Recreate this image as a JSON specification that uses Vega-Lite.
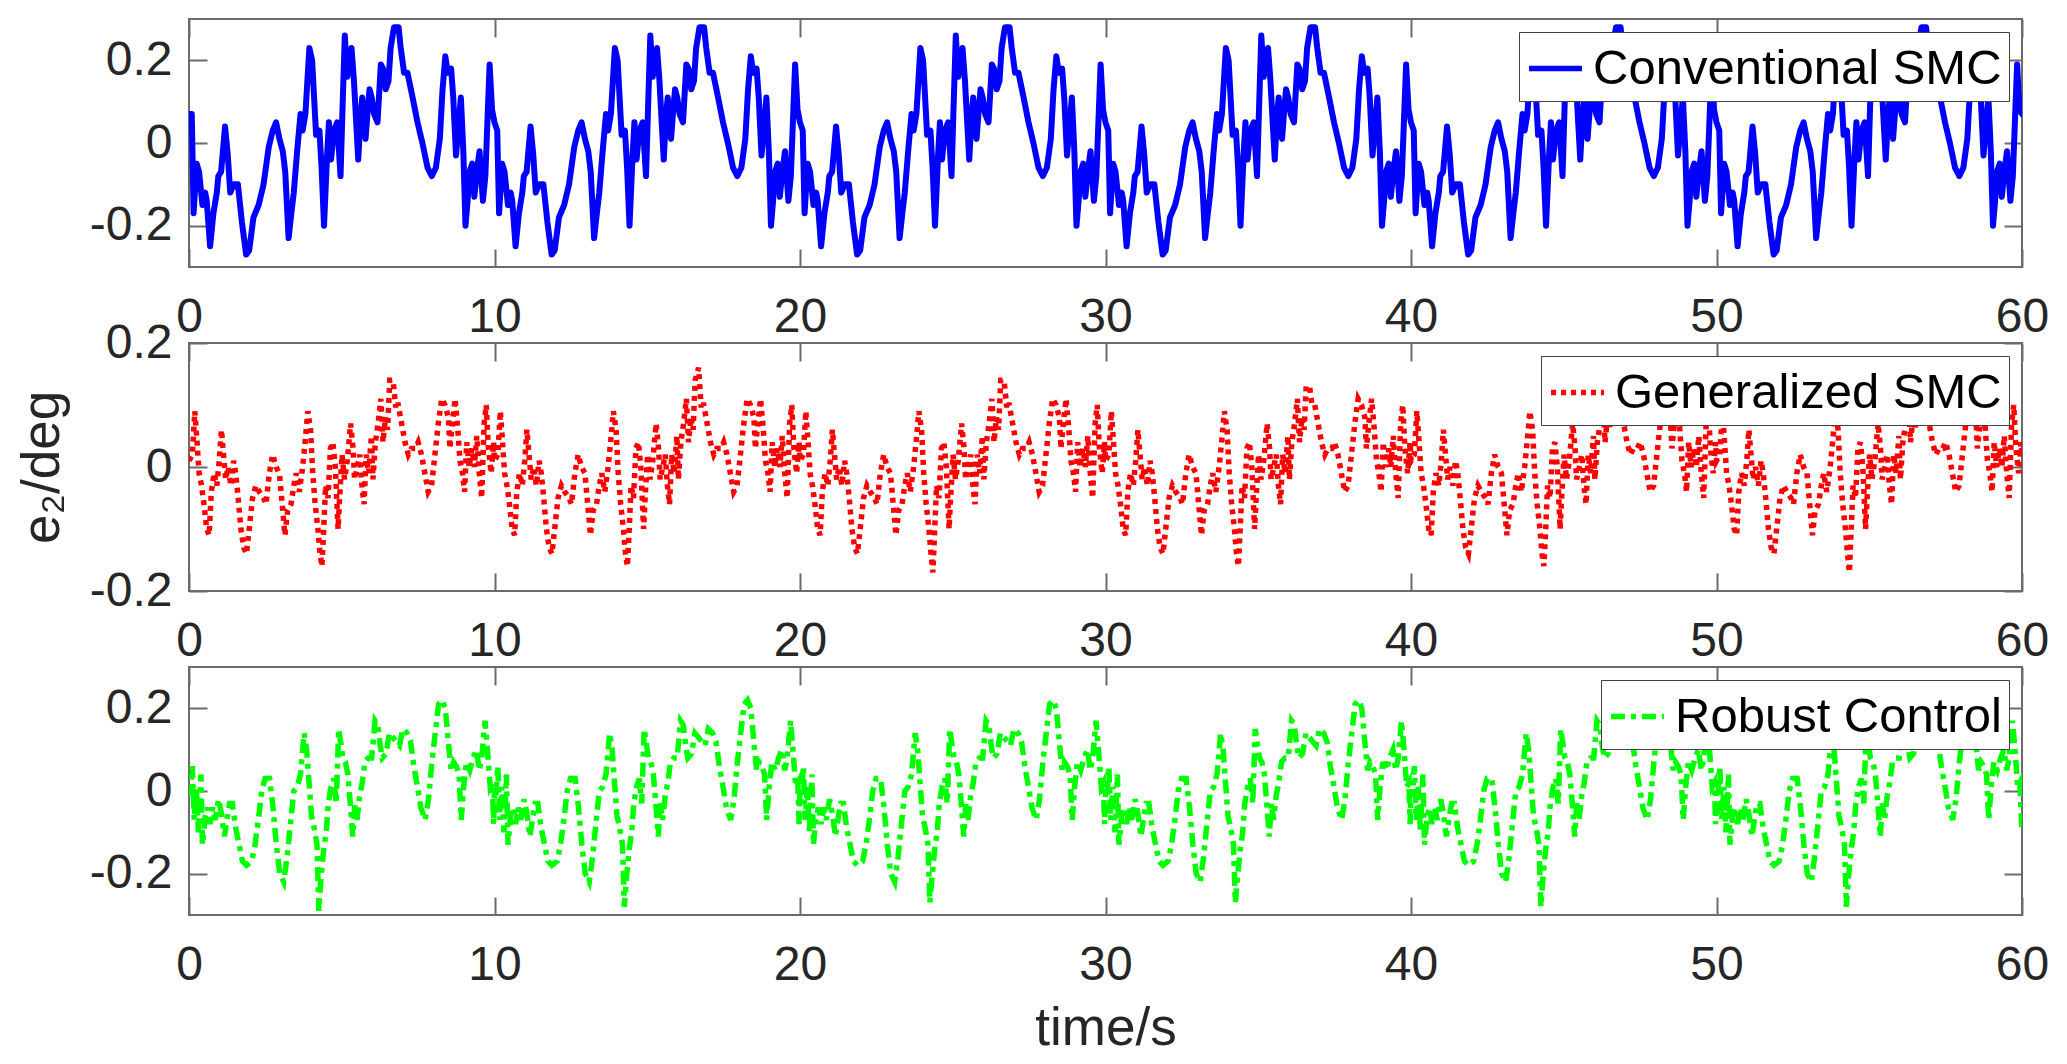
{
  "$schema": "https://vega.github.io/schema/vega-lite/v6.json",
  "background": "white",
  "padding": {"left": 15, "top": 17, "right": 5, "bottom": 5},
  "bounds": "flush",
  "spacing": 76,
  "resolve": {"scale": {"color": "independent"}, "legend": {"color": "independent"}},
  "config": {
    "font": "Liberation Sans",
    "view": {"stroke": "#6b6b6b", "strokeWidth": 2},
    "axis": {
      "domain": false, "grid": false, "ticks": true,
      "tickSize": -18, "tickWidth": 2, "tickColor": "#6b6b6b",
      "labelFont": "Liberation Sans", "labelFontSize": 48, "labelColor": "#262626",
      "labelFlush": false, "labelOverlap": false,
      "titleFont": "Liberation Sans", "titleFontSize": 53, "titleFontWeight": "normal", "titleColor": "#262626"
    },
    "axisX": {"labelPadding": 44},
    "axisY": {"labelPadding": 35},
    "legend": {
      "orient": "top-right", "offset": 13,
      "labelFont": "Liberation Sans", "labelFontSize": 49, "labelColor": "#000000", "labelLimit": 0,
      "symbolType": "stroke", "symbolSize": 2800, "symbolStrokeWidth": 5.5,
      "padding": 7, "labelOffset": 8,
      "strokeColor": "#404040", "fillColor": "#ffffff"
    }
  },
  "datasets": {
    "smc": [
{"t":0,"v":0.07},{"t":0.09,"v":0.07},{"t":0.15,"v":-0.17},{"t":0.25,"v":-0.05},{"t":0.33,"v":-0.07},{"t":0.44,"v":-0.15},{"t":0.53,"v":-0.12},{"t":0.58,"v":-0.14},{"t":0.69,"v":-0.25},{"t":0.8,"v":-0.17},{"t":0.91,"v":-0.12},{"t":0.96,"v":-0.08},{"t":1.05,"v":-0.07},{"t":1.18,"v":0.04},{"t":1.27,"v":-0.03},{"t":1.35,"v":-0.12},{"t":1.46,"v":-0.1},{"t":1.6,"v":-0.1},{"t":1.73,"v":-0.19},{"t":1.87,"v":-0.27},{"t":1.97,"v":-0.26},{"t":2.11,"v":-0.18},{"t":2.28,"v":-0.15},{"t":2.44,"v":-0.1},{"t":2.61,"v":-0.01},{"t":2.74,"v":0.03},{"t":2.85,"v":0.05},{"t":2.96,"v":0.01},{"t":3.07,"v":-0.02},{"t":3.15,"v":-0.07},{"t":3.26,"v":-0.23},{"t":3.35,"v":-0.17},{"t":3.43,"v":-0.12},{"t":3.54,"v":-0.02},{"t":3.65,"v":0.07},{"t":3.72,"v":0.03},{"t":3.81,"v":0.07},{"t":3.94,"v":0.23},{"t":4.03,"v":0.2},{"t":4.16,"v":0.02},{"t":4.27,"v":0.03},{"t":4.34,"v":-0.06},{"t":4.42,"v":-0.2},{"t":4.52,"v":-0.03},{"t":4.58,"v":0.05},{"t":4.65,"v":-0.04},{"t":4.74,"v":0.03},{"t":4.85,"v":0.05},{"t":4.96,"v":-0.08},{"t":5.02,"v":0.07},{"t":5.1,"v":0.26},{"t":5.18,"v":0.16},{"t":5.26,"v":0.21},{"t":5.32,"v":0.23},{"t":5.4,"v":0.15},{"t":5.48,"v":0.04},{"t":5.54,"v":-0.04},{"t":5.62,"v":0.07},{"t":5.67,"v":0.11},{"t":5.73,"v":0.04},{"t":5.78,"v":0.01},{"t":5.84,"v":0.07},{"t":5.91,"v":0.13},{"t":5.98,"v":0.11},{"t":6.06,"v":0.07},{"t":6.17,"v":0.05},{"t":6.28,"v":0.19},{"t":6.35,"v":0.18},{"t":6.44,"v":0.13},{"t":6.53,"v":0.15},{"t":6.6,"v":0.23},{"t":6.71,"v":0.28},{"t":6.86,"v":0.28},{"t":6.93,"v":0.23},{"t":7.04,"v":0.17},{"t":7.15,"v":0.17},{"t":7.32,"v":0.11},{"t":7.48,"v":0.05},{"t":7.64,"v":0},{"t":7.81,"v":-0.06},{"t":7.95,"v":-0.08},{"t":8.08,"v":-0.06},{"t":8.21,"v":0.01},{"t":8.3,"v":0.13},{"t":8.39,"v":0.21},{"t":8.47,"v":0.17},{"t":8.58,"v":0.18},{"t":8.65,"v":0.11},{"t":8.74,"v":-0.03},{"t":8.83,"v":0.05},{"t":8.9,"v":0.11},{"t":8.98,"v":-0.02},{"t":9.05,"v":-0.2},{"t":9.12,"v":-0.14},{"t":9.18,"v":-0.07},{"t":9.27,"v":-0.05},{"t":9.34,"v":-0.13},{"t":9.42,"v":-0.07},{"t":9.51,"v":-0.02},{"t":9.62,"v":-0.14},{"t":9.7,"v":-0.08},{"t":9.84,"v":0.19},{"t":9.92,"v":0.08},
{"t":10,"v":0.05},{"t":10.09,"v":0.03},{"t":10.15,"v":-0.17},{"t":10.25,"v":-0.05},{"t":10.33,"v":-0.07},{"t":10.44,"v":-0.15},{"t":10.53,"v":-0.12},{"t":10.58,"v":-0.14},{"t":10.69,"v":-0.25},{"t":10.8,"v":-0.17},{"t":10.91,"v":-0.12},{"t":10.96,"v":-0.08},{"t":11.05,"v":-0.07},{"t":11.18,"v":0.04},{"t":11.27,"v":-0.03},{"t":11.35,"v":-0.12},{"t":11.46,"v":-0.1},{"t":11.6,"v":-0.1},{"t":11.73,"v":-0.19},{"t":11.87,"v":-0.27},{"t":11.97,"v":-0.26},{"t":12.11,"v":-0.18},{"t":12.28,"v":-0.15},{"t":12.44,"v":-0.1},{"t":12.61,"v":-0.01},{"t":12.74,"v":0.03},{"t":12.85,"v":0.05},{"t":12.96,"v":0.01},{"t":13.07,"v":-0.02},{"t":13.15,"v":-0.07},{"t":13.26,"v":-0.23},{"t":13.35,"v":-0.17},{"t":13.43,"v":-0.12},{"t":13.54,"v":-0.02},{"t":13.65,"v":0.07},{"t":13.72,"v":0.03},{"t":13.81,"v":0.07},{"t":13.94,"v":0.23},{"t":14.03,"v":0.2},{"t":14.16,"v":0.02},{"t":14.27,"v":0.03},{"t":14.34,"v":-0.06},{"t":14.42,"v":-0.2},{"t":14.52,"v":-0.03},{"t":14.58,"v":0.05},{"t":14.65,"v":-0.04},{"t":14.74,"v":0.03},{"t":14.85,"v":0.05},{"t":14.96,"v":-0.08},{"t":15.02,"v":0.07},{"t":15.1,"v":0.26},{"t":15.18,"v":0.16},{"t":15.26,"v":0.21},{"t":15.32,"v":0.23},{"t":15.4,"v":0.15},{"t":15.48,"v":0.04},{"t":15.54,"v":-0.04},{"t":15.62,"v":0.07},{"t":15.67,"v":0.11},{"t":15.73,"v":0.04},{"t":15.78,"v":0.01},{"t":15.84,"v":0.07},{"t":15.91,"v":0.13},{"t":15.98,"v":0.11},{"t":16.06,"v":0.07},{"t":16.17,"v":0.05},{"t":16.28,"v":0.19},{"t":16.35,"v":0.18},{"t":16.44,"v":0.13},{"t":16.53,"v":0.15},{"t":16.6,"v":0.23},{"t":16.71,"v":0.28},{"t":16.86,"v":0.28},{"t":16.93,"v":0.23},{"t":17.04,"v":0.17},{"t":17.15,"v":0.17},{"t":17.32,"v":0.11},{"t":17.48,"v":0.05},{"t":17.64,"v":0},{"t":17.81,"v":-0.06},{"t":17.95,"v":-0.08},{"t":18.08,"v":-0.06},{"t":18.21,"v":0.01},{"t":18.3,"v":0.13},{"t":18.39,"v":0.21},{"t":18.47,"v":0.17},{"t":18.58,"v":0.18},{"t":18.65,"v":0.11},{"t":18.74,"v":-0.03},{"t":18.83,"v":0.05},{"t":18.9,"v":0.11},{"t":18.98,"v":-0.02},{"t":19.05,"v":-0.2},{"t":19.12,"v":-0.14},{"t":19.18,"v":-0.07},{"t":19.27,"v":-0.05},{"t":19.34,"v":-0.13},{"t":19.42,"v":-0.07},{"t":19.51,"v":-0.02},{"t":19.62,"v":-0.14},{"t":19.7,"v":-0.08},{"t":19.84,"v":0.19},{"t":19.92,"v":0.08},
{"t":20,"v":0.05},{"t":20.09,"v":0.03},{"t":20.15,"v":-0.17},{"t":20.25,"v":-0.05},{"t":20.33,"v":-0.07},{"t":20.44,"v":-0.15},{"t":20.53,"v":-0.12},{"t":20.58,"v":-0.14},{"t":20.69,"v":-0.25},{"t":20.8,"v":-0.17},{"t":20.91,"v":-0.12},{"t":20.96,"v":-0.08},{"t":21.05,"v":-0.07},{"t":21.18,"v":0.04},{"t":21.27,"v":-0.03},{"t":21.35,"v":-0.12},{"t":21.46,"v":-0.1},{"t":21.6,"v":-0.1},{"t":21.73,"v":-0.19},{"t":21.87,"v":-0.27},{"t":21.97,"v":-0.26},{"t":22.11,"v":-0.18},{"t":22.28,"v":-0.15},{"t":22.44,"v":-0.1},{"t":22.61,"v":-0.01},{"t":22.74,"v":0.03},{"t":22.85,"v":0.05},{"t":22.96,"v":0.01},{"t":23.07,"v":-0.02},{"t":23.15,"v":-0.07},{"t":23.26,"v":-0.23},{"t":23.35,"v":-0.17},{"t":23.43,"v":-0.12},{"t":23.54,"v":-0.02},{"t":23.65,"v":0.07},{"t":23.72,"v":0.03},{"t":23.81,"v":0.07},{"t":23.94,"v":0.23},{"t":24.03,"v":0.2},{"t":24.16,"v":0.02},{"t":24.27,"v":0.03},{"t":24.34,"v":-0.06},{"t":24.42,"v":-0.2},{"t":24.52,"v":-0.03},{"t":24.58,"v":0.05},{"t":24.65,"v":-0.04},{"t":24.74,"v":0.03},{"t":24.85,"v":0.05},{"t":24.96,"v":-0.08},{"t":25.02,"v":0.07},{"t":25.1,"v":0.26},{"t":25.18,"v":0.16},{"t":25.26,"v":0.21},{"t":25.32,"v":0.23},{"t":25.4,"v":0.15},{"t":25.48,"v":0.04},{"t":25.54,"v":-0.04},{"t":25.62,"v":0.07},{"t":25.67,"v":0.11},{"t":25.73,"v":0.04},{"t":25.78,"v":0.01},{"t":25.84,"v":0.07},{"t":25.91,"v":0.13},{"t":25.98,"v":0.11},{"t":26.06,"v":0.07},{"t":26.17,"v":0.05},{"t":26.28,"v":0.19},{"t":26.35,"v":0.18},{"t":26.44,"v":0.13},{"t":26.53,"v":0.15},{"t":26.6,"v":0.23},{"t":26.71,"v":0.28},{"t":26.86,"v":0.28},{"t":26.93,"v":0.23},{"t":27.04,"v":0.17},{"t":27.15,"v":0.17},{"t":27.32,"v":0.11},{"t":27.48,"v":0.05},{"t":27.64,"v":0},{"t":27.81,"v":-0.06},{"t":27.95,"v":-0.08},{"t":28.08,"v":-0.06},{"t":28.21,"v":0.01},{"t":28.3,"v":0.13},{"t":28.39,"v":0.21},{"t":28.47,"v":0.17},{"t":28.58,"v":0.18},{"t":28.65,"v":0.11},{"t":28.74,"v":-0.03},{"t":28.83,"v":0.05},{"t":28.9,"v":0.11},{"t":28.98,"v":-0.02},{"t":29.05,"v":-0.2},{"t":29.12,"v":-0.14},{"t":29.18,"v":-0.07},{"t":29.27,"v":-0.05},{"t":29.34,"v":-0.13},{"t":29.42,"v":-0.07},{"t":29.51,"v":-0.02},{"t":29.62,"v":-0.14},{"t":29.7,"v":-0.08},{"t":29.84,"v":0.19},{"t":29.92,"v":0.08},
{"t":30,"v":0.05},{"t":30.09,"v":0.03},{"t":30.15,"v":-0.17},{"t":30.25,"v":-0.05},{"t":30.33,"v":-0.07},{"t":30.44,"v":-0.15},{"t":30.53,"v":-0.12},{"t":30.58,"v":-0.14},{"t":30.69,"v":-0.25},{"t":30.8,"v":-0.17},{"t":30.91,"v":-0.12},{"t":30.96,"v":-0.08},{"t":31.05,"v":-0.07},{"t":31.18,"v":0.04},{"t":31.27,"v":-0.03},{"t":31.35,"v":-0.12},{"t":31.46,"v":-0.1},{"t":31.6,"v":-0.1},{"t":31.73,"v":-0.19},{"t":31.87,"v":-0.27},{"t":31.97,"v":-0.26},{"t":32.11,"v":-0.18},{"t":32.28,"v":-0.15},{"t":32.44,"v":-0.1},{"t":32.61,"v":-0.01},{"t":32.74,"v":0.03},{"t":32.85,"v":0.05},{"t":32.96,"v":0.01},{"t":33.07,"v":-0.02},{"t":33.15,"v":-0.07},{"t":33.26,"v":-0.23},{"t":33.35,"v":-0.17},{"t":33.43,"v":-0.12},{"t":33.54,"v":-0.02},{"t":33.65,"v":0.07},{"t":33.72,"v":0.03},{"t":33.81,"v":0.07},{"t":33.94,"v":0.23},{"t":34.03,"v":0.2},{"t":34.16,"v":0.02},{"t":34.27,"v":0.03},{"t":34.34,"v":-0.06},{"t":34.42,"v":-0.2},{"t":34.52,"v":-0.03},{"t":34.58,"v":0.05},{"t":34.65,"v":-0.04},{"t":34.74,"v":0.03},{"t":34.85,"v":0.05},{"t":34.96,"v":-0.08},{"t":35.02,"v":0.07},{"t":35.1,"v":0.26},{"t":35.18,"v":0.16},{"t":35.26,"v":0.21},{"t":35.32,"v":0.23},{"t":35.4,"v":0.15},{"t":35.48,"v":0.04},{"t":35.54,"v":-0.04},{"t":35.62,"v":0.07},{"t":35.67,"v":0.11},{"t":35.73,"v":0.04},{"t":35.78,"v":0.01},{"t":35.84,"v":0.07},{"t":35.91,"v":0.13},{"t":35.98,"v":0.11},{"t":36.06,"v":0.07},{"t":36.17,"v":0.05},{"t":36.28,"v":0.19},{"t":36.35,"v":0.18},{"t":36.44,"v":0.13},{"t":36.53,"v":0.15},{"t":36.6,"v":0.23},{"t":36.71,"v":0.28},{"t":36.86,"v":0.28},{"t":36.93,"v":0.23},{"t":37.04,"v":0.17},{"t":37.15,"v":0.17},{"t":37.32,"v":0.11},{"t":37.48,"v":0.05},{"t":37.64,"v":0},{"t":37.81,"v":-0.06},{"t":37.95,"v":-0.08},{"t":38.08,"v":-0.06},{"t":38.21,"v":0.01},{"t":38.3,"v":0.13},{"t":38.39,"v":0.21},{"t":38.47,"v":0.17},{"t":38.58,"v":0.18},{"t":38.65,"v":0.11},{"t":38.74,"v":-0.03},{"t":38.83,"v":0.05},{"t":38.9,"v":0.11},{"t":38.98,"v":-0.02},{"t":39.05,"v":-0.2},{"t":39.12,"v":-0.14},{"t":39.18,"v":-0.07},{"t":39.27,"v":-0.05},{"t":39.34,"v":-0.13},{"t":39.42,"v":-0.07},{"t":39.51,"v":-0.02},{"t":39.62,"v":-0.14},{"t":39.7,"v":-0.08},{"t":39.84,"v":0.19},{"t":39.92,"v":0.08},
{"t":40,"v":0.05},{"t":40.09,"v":0.03},{"t":40.15,"v":-0.17},{"t":40.25,"v":-0.05},{"t":40.33,"v":-0.07},{"t":40.44,"v":-0.15},{"t":40.53,"v":-0.12},{"t":40.58,"v":-0.14},{"t":40.69,"v":-0.25},{"t":40.8,"v":-0.17},{"t":40.91,"v":-0.12},{"t":40.96,"v":-0.08},{"t":41.05,"v":-0.07},{"t":41.18,"v":0.04},{"t":41.27,"v":-0.03},{"t":41.35,"v":-0.12},{"t":41.46,"v":-0.1},{"t":41.6,"v":-0.1},{"t":41.73,"v":-0.19},{"t":41.87,"v":-0.27},{"t":41.97,"v":-0.26},{"t":42.11,"v":-0.18},{"t":42.28,"v":-0.15},{"t":42.44,"v":-0.1},{"t":42.61,"v":-0.01},{"t":42.74,"v":0.03},{"t":42.85,"v":0.05},{"t":42.96,"v":0.01},{"t":43.07,"v":-0.02},{"t":43.15,"v":-0.07},{"t":43.26,"v":-0.23},{"t":43.35,"v":-0.17},{"t":43.43,"v":-0.12},{"t":43.54,"v":-0.02},{"t":43.65,"v":0.07},{"t":43.72,"v":0.03},{"t":43.81,"v":0.07},{"t":43.94,"v":0.23},{"t":44.03,"v":0.2},{"t":44.16,"v":0.02},{"t":44.27,"v":0.03},{"t":44.34,"v":-0.06},{"t":44.42,"v":-0.2},{"t":44.52,"v":-0.03},{"t":44.58,"v":0.05},{"t":44.65,"v":-0.04},{"t":44.74,"v":0.03},{"t":44.85,"v":0.05},{"t":44.96,"v":-0.08},{"t":45.02,"v":0.07},{"t":45.1,"v":0.26},{"t":45.18,"v":0.16},{"t":45.26,"v":0.21},{"t":45.32,"v":0.23},{"t":45.4,"v":0.15},{"t":45.48,"v":0.04},{"t":45.54,"v":-0.04},{"t":45.62,"v":0.07},{"t":45.67,"v":0.11},{"t":45.73,"v":0.04},{"t":45.78,"v":0.01},{"t":45.84,"v":0.07},{"t":45.91,"v":0.13},{"t":45.98,"v":0.11},{"t":46.06,"v":0.07},{"t":46.17,"v":0.05},{"t":46.28,"v":0.19},{"t":46.35,"v":0.18},{"t":46.44,"v":0.13},{"t":46.53,"v":0.15},{"t":46.6,"v":0.23},{"t":46.71,"v":0.28},{"t":46.86,"v":0.28},{"t":46.93,"v":0.23},{"t":47.04,"v":0.17},{"t":47.15,"v":0.17},{"t":47.32,"v":0.11},{"t":47.48,"v":0.05},{"t":47.64,"v":0},{"t":47.81,"v":-0.06},{"t":47.95,"v":-0.08},{"t":48.08,"v":-0.06},{"t":48.21,"v":0.01},{"t":48.3,"v":0.13},{"t":48.39,"v":0.21},{"t":48.47,"v":0.17},{"t":48.58,"v":0.18},{"t":48.65,"v":0.11},{"t":48.74,"v":-0.03},{"t":48.83,"v":0.05},{"t":48.9,"v":0.11},{"t":48.98,"v":-0.02},{"t":49.05,"v":-0.2},{"t":49.12,"v":-0.14},{"t":49.18,"v":-0.07},{"t":49.27,"v":-0.05},{"t":49.34,"v":-0.13},{"t":49.42,"v":-0.07},{"t":49.51,"v":-0.02},{"t":49.62,"v":-0.14},{"t":49.7,"v":-0.08},{"t":49.84,"v":0.19},{"t":49.92,"v":0.08},
{"t":50,"v":0.05},{"t":50.09,"v":0.03},{"t":50.15,"v":-0.17},{"t":50.25,"v":-0.05},{"t":50.33,"v":-0.07},{"t":50.44,"v":-0.15},{"t":50.53,"v":-0.12},{"t":50.58,"v":-0.14},{"t":50.69,"v":-0.25},{"t":50.8,"v":-0.17},{"t":50.91,"v":-0.12},{"t":50.96,"v":-0.08},{"t":51.05,"v":-0.07},{"t":51.18,"v":0.04},{"t":51.27,"v":-0.03},{"t":51.35,"v":-0.12},{"t":51.46,"v":-0.1},{"t":51.6,"v":-0.1},{"t":51.73,"v":-0.19},{"t":51.87,"v":-0.27},{"t":51.97,"v":-0.26},{"t":52.11,"v":-0.18},{"t":52.28,"v":-0.15},{"t":52.44,"v":-0.1},{"t":52.61,"v":-0.01},{"t":52.74,"v":0.03},{"t":52.85,"v":0.05},{"t":52.96,"v":0.01},{"t":53.07,"v":-0.02},{"t":53.15,"v":-0.07},{"t":53.26,"v":-0.23},{"t":53.35,"v":-0.17},{"t":53.43,"v":-0.12},{"t":53.54,"v":-0.02},{"t":53.65,"v":0.07},{"t":53.72,"v":0.03},{"t":53.81,"v":0.07},{"t":53.94,"v":0.23},{"t":54.03,"v":0.2},{"t":54.16,"v":0.02},{"t":54.27,"v":0.03},{"t":54.34,"v":-0.06},{"t":54.42,"v":-0.2},{"t":54.52,"v":-0.03},{"t":54.58,"v":0.05},{"t":54.65,"v":-0.04},{"t":54.74,"v":0.03},{"t":54.85,"v":0.05},{"t":54.96,"v":-0.08},{"t":55.02,"v":0.07},{"t":55.1,"v":0.26},{"t":55.18,"v":0.16},{"t":55.26,"v":0.21},{"t":55.32,"v":0.23},{"t":55.4,"v":0.15},{"t":55.48,"v":0.04},{"t":55.54,"v":-0.04},{"t":55.62,"v":0.07},{"t":55.67,"v":0.11},{"t":55.73,"v":0.04},{"t":55.78,"v":0.01},{"t":55.84,"v":0.07},{"t":55.91,"v":0.13},{"t":55.98,"v":0.11},{"t":56.06,"v":0.07},{"t":56.17,"v":0.05},{"t":56.28,"v":0.19},{"t":56.35,"v":0.18},{"t":56.44,"v":0.13},{"t":56.53,"v":0.15},{"t":56.6,"v":0.23},{"t":56.71,"v":0.28},{"t":56.86,"v":0.28},{"t":56.93,"v":0.23},{"t":57.04,"v":0.17},{"t":57.15,"v":0.17},{"t":57.32,"v":0.11},{"t":57.48,"v":0.05},{"t":57.64,"v":0},{"t":57.81,"v":-0.06},{"t":57.95,"v":-0.08},{"t":58.08,"v":-0.06},{"t":58.21,"v":0.01},{"t":58.3,"v":0.13},{"t":58.39,"v":0.21},{"t":58.47,"v":0.17},{"t":58.58,"v":0.18},{"t":58.65,"v":0.11},{"t":58.74,"v":-0.03},{"t":58.83,"v":0.05},{"t":58.9,"v":0.11},{"t":58.98,"v":-0.02},{"t":59.05,"v":-0.2},{"t":59.12,"v":-0.14},{"t":59.18,"v":-0.07},{"t":59.27,"v":-0.05},{"t":59.34,"v":-0.13},{"t":59.42,"v":-0.07},{"t":59.51,"v":-0.02},{"t":59.62,"v":-0.14},{"t":59.7,"v":-0.08},{"t":59.84,"v":0.19},{"t":59.92,"v":0.08},{"t":60,"v":0.07}
    ],
    "gsmc": [
{"t":0,"v":0.01},{"t":0.11,"v":0.02},{"t":0.19,"v":0.09},{"t":0.25,"v":0.05},{"t":0.33,"v":-0.01},{"t":0.41,"v":-0.03},{"t":0.49,"v":-0.06},{"t":0.58,"v":-0.1},{"t":0.66,"v":-0.11},{"t":0.73,"v":-0.04},{"t":0.82,"v":-0.01},{"t":0.91,"v":-0.03},{"t":0.99,"v":0.01},{"t":1.06,"v":0.06},{"t":1.13,"v":0.02},{"t":1.2,"v":-0.02},{"t":1.28,"v":0},{"t":1.37,"v":-0.03},{"t":1.46,"v":0.01},{"t":1.53,"v":-0.01},{"t":1.61,"v":-0.05},{"t":1.7,"v":-0.1},{"t":1.79,"v":-0.13},{"t":1.88,"v":-0.14},{"t":1.97,"v":-0.1},{"t":2.08,"v":-0.05},{"t":2.19,"v":-0.03},{"t":2.3,"v":-0.04},{"t":2.44,"v":-0.05},{"t":2.52,"v":-0.06},{"t":2.63,"v":-0.01},{"t":2.74,"v":0.02},{"t":2.85,"v":0},{"t":2.96,"v":-0.01},{"t":3.07,"v":-0.07},{"t":3.14,"v":-0.11},{"t":3.23,"v":-0.07},{"t":3.34,"v":-0.06},{"t":3.43,"v":-0.03},{"t":3.51,"v":-0.01},{"t":3.61,"v":-0.04},{"t":3.72,"v":0},{"t":3.8,"v":0.04},{"t":3.89,"v":0.09},{"t":3.98,"v":0.06},{"t":4.05,"v":-0.01},{"t":4.13,"v":-0.06},{"t":4.22,"v":-0.1},{"t":4.29,"v":-0.14},{"t":4.35,"v":-0.16},{"t":4.41,"v":-0.1},{"t":4.47,"v":-0.03},{"t":4.55,"v":-0.05},{"t":4.63,"v":0.03},{"t":4.71,"v":0.04},{"t":4.79,"v":0},{"t":4.88,"v":-0.1},{"t":4.93,"v":-0.05},{"t":5.01,"v":0.02},{"t":5.09,"v":-0.02},{"t":5.18,"v":0.01},{"t":5.29,"v":0.07},{"t":5.37,"v":0.03},{"t":5.42,"v":-0.02},{"t":5.51,"v":0},{"t":5.59,"v":0.02},{"t":5.66,"v":-0.03},{"t":5.73,"v":-0.06},{"t":5.8,"v":0.02},{"t":5.88,"v":-0.01},{"t":5.97,"v":0.05},{"t":6.02,"v":-0.02},{"t":6.1,"v":0.04},{"t":6.19,"v":0.07},{"t":6.28,"v":0.11},{"t":6.35,"v":0.04},{"t":6.43,"v":0.08},{"t":6.5,"v":0.06},{"t":6.57,"v":0.14},{"t":6.68,"v":0.14},{"t":6.76,"v":0.1},{"t":6.85,"v":0.1},{"t":6.96,"v":0.07},{"t":7.07,"v":0.04},{"t":7.18,"v":0.02},{"t":7.28,"v":0.03},{"t":7.41,"v":0.03},{"t":7.5,"v":0.04},{"t":7.61,"v":0.02},{"t":7.72,"v":-0.01},{"t":7.83,"v":-0.04},{"t":7.94,"v":-0.03},{"t":8.05,"v":0.02},{"t":8.16,"v":0.07},{"t":8.27,"v":0.11},{"t":8.38,"v":0.1},{"t":8.49,"v":0.08},{"t":8.54,"v":0.03},{"t":8.62,"v":0.07},{"t":8.71,"v":0.11},{"t":8.8,"v":0.06},{"t":8.87,"v":0.01},{"t":8.95,"v":-0.01},{"t":9.02,"v":-0.04},{"t":9.09,"v":0.04},{"t":9.17,"v":0},{"t":9.26,"v":0.03},{"t":9.34,"v":0},{"t":9.42,"v":0.05},{"t":9.5,"v":-0.01},{"t":9.58,"v":-0.05},{"t":9.66,"v":0.07},{"t":9.73,"v":0.1},{"t":9.8,"v":0.03},{"t":9.89,"v":-0.01},{"t":9.97,"v":0.04},
{"t":10,"v":0.01},{"t":10.11,"v":0.02},{"t":10.19,"v":0.09},{"t":10.25,"v":0.05},{"t":10.33,"v":-0.01},{"t":10.41,"v":-0.03},{"t":10.49,"v":-0.06},{"t":10.58,"v":-0.1},{"t":10.66,"v":-0.11},{"t":10.73,"v":-0.04},{"t":10.82,"v":-0.01},{"t":10.91,"v":-0.03},{"t":10.99,"v":0.01},{"t":11.06,"v":0.06},{"t":11.13,"v":0.02},{"t":11.2,"v":-0.02},{"t":11.28,"v":0},{"t":11.37,"v":-0.03},{"t":11.46,"v":0.01},{"t":11.53,"v":-0.01},{"t":11.61,"v":-0.05},{"t":11.7,"v":-0.1},{"t":11.79,"v":-0.13},{"t":11.88,"v":-0.14},{"t":11.97,"v":-0.1},{"t":12.08,"v":-0.05},{"t":12.19,"v":-0.03},{"t":12.3,"v":-0.04},{"t":12.44,"v":-0.05},{"t":12.52,"v":-0.06},{"t":12.63,"v":-0.01},{"t":12.74,"v":0.02},{"t":12.85,"v":0},{"t":12.96,"v":-0.01},{"t":13.07,"v":-0.07},{"t":13.14,"v":-0.11},{"t":13.23,"v":-0.07},{"t":13.34,"v":-0.06},{"t":13.43,"v":-0.03},{"t":13.51,"v":-0.01},{"t":13.61,"v":-0.04},{"t":13.72,"v":0},{"t":13.8,"v":0.04},{"t":13.89,"v":0.09},{"t":13.98,"v":0.06},{"t":14.05,"v":-0.01},{"t":14.13,"v":-0.06},{"t":14.22,"v":-0.1},{"t":14.29,"v":-0.14},{"t":14.35,"v":-0.16},{"t":14.41,"v":-0.1},{"t":14.47,"v":-0.03},{"t":14.55,"v":-0.05},{"t":14.63,"v":0.03},{"t":14.71,"v":0.04},{"t":14.79,"v":0},{"t":14.88,"v":-0.1},{"t":14.93,"v":-0.05},{"t":15.01,"v":0.02},{"t":15.09,"v":-0.02},{"t":15.18,"v":0.01},{"t":15.29,"v":0.07},{"t":15.37,"v":0.03},{"t":15.42,"v":-0.02},{"t":15.51,"v":0},{"t":15.59,"v":0.02},{"t":15.66,"v":-0.03},{"t":15.73,"v":-0.06},{"t":15.8,"v":0.02},{"t":15.88,"v":-0.01},{"t":15.97,"v":0.05},{"t":16.02,"v":-0.02},{"t":16.1,"v":0.04},{"t":16.19,"v":0.07},{"t":16.28,"v":0.11},{"t":16.35,"v":0.04},{"t":16.43,"v":0.08},{"t":16.5,"v":0.06},{"t":16.57,"v":0.14},{"t":16.68,"v":0.16},{"t":16.76,"v":0.1},{"t":16.85,"v":0.1},{"t":16.96,"v":0.07},{"t":17.07,"v":0.04},{"t":17.18,"v":0.02},{"t":17.28,"v":0.03},{"t":17.41,"v":0.03},{"t":17.5,"v":0.04},{"t":17.61,"v":0.02},{"t":17.72,"v":-0.01},{"t":17.83,"v":-0.04},{"t":17.94,"v":-0.03},{"t":18.05,"v":0.02},{"t":18.16,"v":0.07},{"t":18.27,"v":0.11},{"t":18.38,"v":0.1},{"t":18.49,"v":0.08},{"t":18.54,"v":0.03},{"t":18.62,"v":0.07},{"t":18.71,"v":0.11},{"t":18.8,"v":0.06},{"t":18.87,"v":0.01},{"t":18.95,"v":-0.01},{"t":19.02,"v":-0.04},{"t":19.09,"v":0.04},{"t":19.17,"v":0},{"t":19.26,"v":0.03},{"t":19.34,"v":0},{"t":19.42,"v":0.05},{"t":19.5,"v":-0.01},{"t":19.58,"v":-0.05},{"t":19.66,"v":0.07},{"t":19.73,"v":0.1},{"t":19.8,"v":0.03},{"t":19.89,"v":-0.01},{"t":19.97,"v":0.04},
{"t":20,"v":0.01},{"t":20.11,"v":0.02},{"t":20.19,"v":0.09},{"t":20.25,"v":0.05},{"t":20.33,"v":-0.01},{"t":20.41,"v":-0.03},{"t":20.49,"v":-0.06},{"t":20.58,"v":-0.1},{"t":20.66,"v":-0.11},{"t":20.73,"v":-0.04},{"t":20.82,"v":-0.01},{"t":20.91,"v":-0.03},{"t":20.99,"v":0.01},{"t":21.06,"v":0.06},{"t":21.13,"v":0.02},{"t":21.2,"v":-0.02},{"t":21.28,"v":0},{"t":21.37,"v":-0.03},{"t":21.46,"v":0.01},{"t":21.53,"v":-0.01},{"t":21.61,"v":-0.05},{"t":21.7,"v":-0.1},{"t":21.79,"v":-0.13},{"t":21.88,"v":-0.14},{"t":21.97,"v":-0.1},{"t":22.08,"v":-0.05},{"t":22.19,"v":-0.03},{"t":22.3,"v":-0.04},{"t":22.44,"v":-0.05},{"t":22.52,"v":-0.06},{"t":22.63,"v":-0.01},{"t":22.74,"v":0.02},{"t":22.85,"v":0},{"t":22.96,"v":-0.01},{"t":23.07,"v":-0.07},{"t":23.14,"v":-0.11},{"t":23.23,"v":-0.07},{"t":23.34,"v":-0.06},{"t":23.43,"v":-0.03},{"t":23.51,"v":-0.01},{"t":23.61,"v":-0.04},{"t":23.72,"v":0},{"t":23.8,"v":0.04},{"t":23.89,"v":0.09},{"t":23.98,"v":0.06},{"t":24.05,"v":-0.01},{"t":24.13,"v":-0.06},{"t":24.22,"v":-0.1},{"t":24.29,"v":-0.14},{"t":24.35,"v":-0.17},{"t":24.41,"v":-0.1},{"t":24.47,"v":-0.03},{"t":24.55,"v":-0.05},{"t":24.63,"v":0.03},{"t":24.71,"v":0.04},{"t":24.79,"v":0},{"t":24.88,"v":-0.1},{"t":24.93,"v":-0.05},{"t":25.01,"v":0.02},{"t":25.09,"v":-0.02},{"t":25.18,"v":0.01},{"t":25.29,"v":0.07},{"t":25.37,"v":0.03},{"t":25.42,"v":-0.02},{"t":25.51,"v":0},{"t":25.59,"v":0.02},{"t":25.66,"v":-0.03},{"t":25.73,"v":-0.06},{"t":25.8,"v":0.02},{"t":25.88,"v":-0.01},{"t":25.97,"v":0.05},{"t":26.02,"v":-0.02},{"t":26.1,"v":0.04},{"t":26.19,"v":0.07},{"t":26.28,"v":0.11},{"t":26.35,"v":0.04},{"t":26.43,"v":0.08},{"t":26.5,"v":0.06},{"t":26.57,"v":0.14},{"t":26.68,"v":0.14},{"t":26.76,"v":0.1},{"t":26.85,"v":0.1},{"t":26.96,"v":0.07},{"t":27.07,"v":0.04},{"t":27.18,"v":0.02},{"t":27.28,"v":0.03},{"t":27.41,"v":0.03},{"t":27.5,"v":0.04},{"t":27.61,"v":0.02},{"t":27.72,"v":-0.01},{"t":27.83,"v":-0.04},{"t":27.94,"v":-0.03},{"t":28.05,"v":0.02},{"t":28.16,"v":0.07},{"t":28.27,"v":0.11},{"t":28.38,"v":0.1},{"t":28.49,"v":0.08},{"t":28.54,"v":0.03},{"t":28.62,"v":0.07},{"t":28.71,"v":0.11},{"t":28.8,"v":0.06},{"t":28.87,"v":0.01},{"t":28.95,"v":-0.01},{"t":29.02,"v":-0.04},{"t":29.09,"v":0.04},{"t":29.17,"v":0},{"t":29.26,"v":0.03},{"t":29.34,"v":0},{"t":29.42,"v":0.05},{"t":29.5,"v":-0.01},{"t":29.58,"v":-0.05},{"t":29.66,"v":0.07},{"t":29.73,"v":0.1},{"t":29.8,"v":0.03},{"t":29.89,"v":-0.01},{"t":29.97,"v":0.04},
{"t":30,"v":0.01},{"t":30.11,"v":0.02},{"t":30.19,"v":0.09},{"t":30.25,"v":0.05},{"t":30.33,"v":-0.01},{"t":30.41,"v":-0.03},{"t":30.49,"v":-0.06},{"t":30.58,"v":-0.1},{"t":30.66,"v":-0.11},{"t":30.73,"v":-0.04},{"t":30.82,"v":-0.01},{"t":30.91,"v":-0.03},{"t":30.99,"v":0.01},{"t":31.06,"v":0.06},{"t":31.13,"v":0.02},{"t":31.2,"v":-0.02},{"t":31.28,"v":0},{"t":31.37,"v":-0.03},{"t":31.46,"v":0.01},{"t":31.53,"v":-0.01},{"t":31.61,"v":-0.05},{"t":31.7,"v":-0.1},{"t":31.79,"v":-0.13},{"t":31.88,"v":-0.14},{"t":31.97,"v":-0.1},{"t":32.08,"v":-0.05},{"t":32.19,"v":-0.03},{"t":32.3,"v":-0.04},{"t":32.44,"v":-0.05},{"t":32.52,"v":-0.06},{"t":32.63,"v":-0.01},{"t":32.74,"v":0.02},{"t":32.85,"v":0},{"t":32.96,"v":-0.01},{"t":33.07,"v":-0.07},{"t":33.14,"v":-0.11},{"t":33.23,"v":-0.07},{"t":33.34,"v":-0.06},{"t":33.43,"v":-0.03},{"t":33.51,"v":-0.01},{"t":33.61,"v":-0.04},{"t":33.72,"v":0},{"t":33.8,"v":0.04},{"t":33.89,"v":0.09},{"t":33.98,"v":0.06},{"t":34.05,"v":-0.01},{"t":34.13,"v":-0.06},{"t":34.22,"v":-0.1},{"t":34.29,"v":-0.14},{"t":34.35,"v":-0.16},{"t":34.41,"v":-0.1},{"t":34.47,"v":-0.03},{"t":34.55,"v":-0.05},{"t":34.63,"v":0.03},{"t":34.71,"v":0.04},{"t":34.79,"v":0},{"t":34.88,"v":-0.1},{"t":34.93,"v":-0.05},{"t":35.01,"v":0.02},{"t":35.09,"v":-0.02},{"t":35.18,"v":0.01},{"t":35.29,"v":0.07},{"t":35.37,"v":0.03},{"t":35.42,"v":-0.02},{"t":35.51,"v":0},{"t":35.59,"v":0.02},{"t":35.66,"v":-0.03},{"t":35.73,"v":-0.06},{"t":35.8,"v":0.02},{"t":35.88,"v":-0.01},{"t":35.97,"v":0.05},{"t":36.02,"v":-0.02},{"t":36.1,"v":0.04},{"t":36.19,"v":0.07},{"t":36.28,"v":0.11},{"t":36.35,"v":0.04},{"t":36.43,"v":0.08},{"t":36.5,"v":0.06},{"t":36.57,"v":0.13},{"t":36.68,"v":0.13},{"t":36.76,"v":0.1},{"t":36.85,"v":0.1},{"t":36.96,"v":0.07},{"t":37.07,"v":0.04},{"t":37.18,"v":0.02},{"t":37.28,"v":0.03},{"t":37.41,"v":0.03},{"t":37.5,"v":0.04},{"t":37.61,"v":0.02},{"t":37.72,"v":-0.01},{"t":37.83,"v":-0.04},{"t":37.94,"v":-0.03},{"t":38.05,"v":0.02},{"t":38.16,"v":0.07},{"t":38.27,"v":0.11},{"t":38.38,"v":0.1},{"t":38.49,"v":0.08},{"t":38.54,"v":0.03},{"t":38.62,"v":0.07},{"t":38.71,"v":0.11},{"t":38.8,"v":0.06},{"t":38.87,"v":0.01},{"t":38.95,"v":-0.01},{"t":39.02,"v":-0.04},{"t":39.09,"v":0.04},{"t":39.17,"v":0},{"t":39.26,"v":0.03},{"t":39.34,"v":0},{"t":39.42,"v":0.05},{"t":39.5,"v":-0.01},{"t":39.58,"v":-0.05},{"t":39.66,"v":0.07},{"t":39.73,"v":0.1},{"t":39.8,"v":0.03},{"t":39.89,"v":-0.01},{"t":39.97,"v":0.04},
{"t":40,"v":0.01},{"t":40.11,"v":0.02},{"t":40.19,"v":0.09},{"t":40.25,"v":0.05},{"t":40.33,"v":-0.01},{"t":40.41,"v":-0.03},{"t":40.49,"v":-0.06},{"t":40.58,"v":-0.1},{"t":40.66,"v":-0.11},{"t":40.73,"v":-0.04},{"t":40.82,"v":-0.01},{"t":40.91,"v":-0.03},{"t":40.99,"v":0.01},{"t":41.06,"v":0.06},{"t":41.13,"v":0.02},{"t":41.2,"v":-0.02},{"t":41.28,"v":0},{"t":41.37,"v":-0.03},{"t":41.46,"v":0.01},{"t":41.53,"v":-0.01},{"t":41.61,"v":-0.05},{"t":41.7,"v":-0.1},{"t":41.79,"v":-0.13},{"t":41.88,"v":-0.14},{"t":41.97,"v":-0.1},{"t":42.08,"v":-0.05},{"t":42.19,"v":-0.03},{"t":42.3,"v":-0.04},{"t":42.44,"v":-0.05},{"t":42.52,"v":-0.06},{"t":42.63,"v":-0.01},{"t":42.74,"v":0.02},{"t":42.85,"v":0},{"t":42.96,"v":-0.01},{"t":43.07,"v":-0.07},{"t":43.14,"v":-0.11},{"t":43.23,"v":-0.07},{"t":43.34,"v":-0.06},{"t":43.43,"v":-0.03},{"t":43.51,"v":-0.01},{"t":43.61,"v":-0.04},{"t":43.72,"v":0},{"t":43.8,"v":0.04},{"t":43.89,"v":0.09},{"t":43.98,"v":0.06},{"t":44.05,"v":-0.01},{"t":44.13,"v":-0.06},{"t":44.22,"v":-0.1},{"t":44.29,"v":-0.14},{"t":44.35,"v":-0.16},{"t":44.41,"v":-0.1},{"t":44.47,"v":-0.03},{"t":44.55,"v":-0.05},{"t":44.63,"v":0.03},{"t":44.71,"v":0.04},{"t":44.79,"v":0},{"t":44.88,"v":-0.1},{"t":44.93,"v":-0.05},{"t":45.01,"v":0.02},{"t":45.09,"v":-0.02},{"t":45.18,"v":0.01},{"t":45.29,"v":0.07},{"t":45.37,"v":0.03},{"t":45.42,"v":-0.02},{"t":45.51,"v":0},{"t":45.59,"v":0.02},{"t":45.66,"v":-0.03},{"t":45.73,"v":-0.06},{"t":45.8,"v":0.02},{"t":45.88,"v":-0.01},{"t":45.97,"v":0.05},{"t":46.02,"v":-0.02},{"t":46.1,"v":0.04},{"t":46.19,"v":0.07},{"t":46.28,"v":0.11},{"t":46.35,"v":0.04},{"t":46.43,"v":0.08},{"t":46.5,"v":0.06},{"t":46.57,"v":0.14},{"t":46.68,"v":0.14},{"t":46.76,"v":0.1},{"t":46.85,"v":0.1},{"t":46.96,"v":0.07},{"t":47.07,"v":0.04},{"t":47.18,"v":0.02},{"t":47.28,"v":0.03},{"t":47.41,"v":0.03},{"t":47.5,"v":0.04},{"t":47.61,"v":0.02},{"t":47.72,"v":-0.01},{"t":47.83,"v":-0.04},{"t":47.94,"v":-0.03},{"t":48.05,"v":0.02},{"t":48.16,"v":0.07},{"t":48.27,"v":0.11},{"t":48.38,"v":0.1},{"t":48.49,"v":0.08},{"t":48.54,"v":0.03},{"t":48.62,"v":0.07},{"t":48.71,"v":0.11},{"t":48.8,"v":0.06},{"t":48.87,"v":0.01},{"t":48.95,"v":-0.01},{"t":49.02,"v":-0.04},{"t":49.09,"v":0.04},{"t":49.17,"v":0},{"t":49.26,"v":0.03},{"t":49.34,"v":0},{"t":49.42,"v":0.05},{"t":49.5,"v":-0.01},{"t":49.58,"v":-0.05},{"t":49.66,"v":0.07},{"t":49.73,"v":0.1},{"t":49.8,"v":0.03},{"t":49.89,"v":-0.01},{"t":49.97,"v":0.04},
{"t":50,"v":0.01},{"t":50.11,"v":0.02},{"t":50.19,"v":0.09},{"t":50.25,"v":0.05},{"t":50.33,"v":-0.01},{"t":50.41,"v":-0.03},{"t":50.49,"v":-0.06},{"t":50.58,"v":-0.1},{"t":50.66,"v":-0.11},{"t":50.73,"v":-0.04},{"t":50.82,"v":-0.01},{"t":50.91,"v":-0.03},{"t":50.99,"v":0.01},{"t":51.06,"v":0.06},{"t":51.13,"v":0.02},{"t":51.2,"v":-0.02},{"t":51.28,"v":0},{"t":51.37,"v":-0.03},{"t":51.46,"v":0.01},{"t":51.53,"v":-0.01},{"t":51.61,"v":-0.05},{"t":51.7,"v":-0.1},{"t":51.79,"v":-0.13},{"t":51.88,"v":-0.14},{"t":51.97,"v":-0.1},{"t":52.08,"v":-0.05},{"t":52.19,"v":-0.03},{"t":52.3,"v":-0.04},{"t":52.44,"v":-0.05},{"t":52.52,"v":-0.06},{"t":52.63,"v":-0.01},{"t":52.74,"v":0.02},{"t":52.85,"v":0},{"t":52.96,"v":-0.01},{"t":53.07,"v":-0.07},{"t":53.14,"v":-0.11},{"t":53.23,"v":-0.07},{"t":53.34,"v":-0.06},{"t":53.43,"v":-0.03},{"t":53.51,"v":-0.01},{"t":53.61,"v":-0.04},{"t":53.72,"v":0},{"t":53.8,"v":0.04},{"t":53.89,"v":0.09},{"t":53.98,"v":0.06},{"t":54.05,"v":-0.01},{"t":54.13,"v":-0.06},{"t":54.22,"v":-0.1},{"t":54.29,"v":-0.14},{"t":54.35,"v":-0.17},{"t":54.41,"v":-0.1},{"t":54.47,"v":-0.03},{"t":54.55,"v":-0.05},{"t":54.63,"v":0.03},{"t":54.71,"v":0.04},{"t":54.79,"v":0},{"t":54.88,"v":-0.1},{"t":54.93,"v":-0.05},{"t":55.01,"v":0.02},{"t":55.09,"v":-0.02},{"t":55.18,"v":0.01},{"t":55.29,"v":0.07},{"t":55.37,"v":0.03},{"t":55.42,"v":-0.02},{"t":55.51,"v":0},{"t":55.59,"v":0.02},{"t":55.66,"v":-0.03},{"t":55.73,"v":-0.06},{"t":55.8,"v":0.02},{"t":55.88,"v":-0.01},{"t":55.97,"v":0.05},{"t":56.02,"v":-0.02},{"t":56.1,"v":0.04},{"t":56.19,"v":0.07},{"t":56.28,"v":0.11},{"t":56.35,"v":0.04},{"t":56.43,"v":0.08},{"t":56.5,"v":0.06},{"t":56.57,"v":0.14},{"t":56.68,"v":0.14},{"t":56.76,"v":0.1},{"t":56.85,"v":0.1},{"t":56.96,"v":0.07},{"t":57.07,"v":0.04},{"t":57.18,"v":0.02},{"t":57.28,"v":0.03},{"t":57.41,"v":0.03},{"t":57.5,"v":0.04},{"t":57.61,"v":0.02},{"t":57.72,"v":-0.01},{"t":57.83,"v":-0.04},{"t":57.94,"v":-0.03},{"t":58.05,"v":0.02},{"t":58.16,"v":0.07},{"t":58.27,"v":0.11},{"t":58.38,"v":0.1},{"t":58.49,"v":0.08},{"t":58.54,"v":0.03},{"t":58.62,"v":0.07},{"t":58.71,"v":0.11},{"t":58.8,"v":0.06},{"t":58.87,"v":0.01},{"t":58.95,"v":-0.01},{"t":59.02,"v":-0.04},{"t":59.09,"v":0.04},{"t":59.17,"v":0},{"t":59.26,"v":0.03},{"t":59.34,"v":0},{"t":59.42,"v":0.05},{"t":59.5,"v":-0.01},{"t":59.58,"v":-0.05},{"t":59.66,"v":0.07},{"t":59.73,"v":0.1},{"t":59.8,"v":0.03},{"t":59.89,"v":-0.01},{"t":59.97,"v":0.04},{"t":60,"v":0.02}
    ],
    "rc": [
{"t":0,"v":0},{"t":0.05,"v":-0.01},{"t":0.11,"v":0.06},{"t":0.17,"v":-0.07},{"t":0.24,"v":0.01},{"t":0.31,"v":-0.1},{"t":0.39,"v":0.04},{"t":0.44,"v":-0.13},{"t":0.53,"v":-0.06},{"t":0.61,"v":-0.04},{"t":0.69,"v":-0.08},{"t":0.78,"v":-0.04},{"t":0.86,"v":-0.07},{"t":0.97,"v":-0.02},{"t":1.05,"v":-0.05},{"t":1.16,"v":-0.11},{"t":1.24,"v":-0.07},{"t":1.33,"v":-0.03},{"t":1.42,"v":-0.03},{"t":1.53,"v":-0.09},{"t":1.64,"v":-0.13},{"t":1.75,"v":-0.17},{"t":1.88,"v":-0.18},{"t":2.05,"v":-0.17},{"t":2.16,"v":-0.13},{"t":2.27,"v":-0.07},{"t":2.38,"v":0},{"t":2.49,"v":0.03},{"t":2.64,"v":0.03},{"t":2.75,"v":-0.04},{"t":2.86,"v":-0.13},{"t":2.97,"v":-0.2},{"t":3.1,"v":-0.22},{"t":3.21,"v":-0.16},{"t":3.32,"v":-0.08},{"t":3.43,"v":0},{"t":3.54,"v":0.01},{"t":3.65,"v":0.04},{"t":3.77,"v":0.14},{"t":3.85,"v":0.1},{"t":3.93,"v":0.02},{"t":4.01,"v":-0.06},{"t":4.1,"v":-0.09},{"t":4.19,"v":-0.13},{"t":4.25,"v":-0.29},{"t":4.32,"v":-0.21},{"t":4.41,"v":-0.14},{"t":4.49,"v":-0.1},{"t":4.56,"v":-0.03},{"t":4.65,"v":0.01},{"t":4.74,"v":0.03},{"t":4.82,"v":-0.03},{"t":4.9,"v":0.15},{"t":4.96,"v":0.12},{"t":5.04,"v":0.08},{"t":5.12,"v":0.07},{"t":5.2,"v":0.04},{"t":5.29,"v":-0.04},{"t":5.36,"v":-0.11},{"t":5.43,"v":-0.03},{"t":5.5,"v":-0.07},{"t":5.59,"v":-0.01},{"t":5.67,"v":0.02},{"t":5.76,"v":0.07},{"t":5.87,"v":0.08},{"t":5.98,"v":0.08},{"t":6.09,"v":0.17},{"t":6.18,"v":0.16},{"t":6.26,"v":0.11},{"t":6.33,"v":0.08},{"t":6.45,"v":0.09},{"t":6.56,"v":0.14},{"t":6.67,"v":0.13},{"t":6.78,"v":0.12},{"t":6.89,"v":0.11},{"t":7,"v":0.15},{"t":7.14,"v":0.14},{"t":7.25,"v":0.12},{"t":7.36,"v":0.06},{"t":7.48,"v":0.01},{"t":7.59,"v":-0.04},{"t":7.73,"v":-0.07},{"t":7.84,"v":-0.02},{"t":7.95,"v":0.07},{"t":8.06,"v":0.14},{"t":8.17,"v":0.21},{"t":8.28,"v":0.22},{"t":8.39,"v":0.2},{"t":8.5,"v":0.11},{"t":8.58,"v":0.05},{"t":8.66,"v":0.07},{"t":8.75,"v":0.06},{"t":8.84,"v":0.04},{"t":8.91,"v":-0.07},{"t":8.99,"v":0.01},{"t":9.08,"v":0.07},{"t":9.19,"v":0.05},{"t":9.3,"v":0.08},{"t":9.41,"v":0.1},{"t":9.5,"v":0.05},{"t":9.58,"v":0.08},{"t":9.69,"v":0.17},{"t":9.77,"v":0.1},{"t":9.86,"v":0.01},{"t":9.93,"v":0.02},{"t":9.97,"v":-0.08},
{"t":10,"v":0},{"t":10.05,"v":-0.01},{"t":10.11,"v":0.06},{"t":10.17,"v":-0.07},{"t":10.24,"v":0.01},{"t":10.31,"v":-0.1},{"t":10.39,"v":0.04},{"t":10.44,"v":-0.13},{"t":10.53,"v":-0.06},{"t":10.61,"v":-0.04},{"t":10.69,"v":-0.08},{"t":10.78,"v":-0.04},{"t":10.86,"v":-0.07},{"t":10.97,"v":-0.02},{"t":11.05,"v":-0.05},{"t":11.16,"v":-0.11},{"t":11.24,"v":-0.07},{"t":11.33,"v":-0.03},{"t":11.42,"v":-0.03},{"t":11.53,"v":-0.09},{"t":11.64,"v":-0.13},{"t":11.75,"v":-0.17},{"t":11.88,"v":-0.18},{"t":12.05,"v":-0.17},{"t":12.16,"v":-0.13},{"t":12.27,"v":-0.07},{"t":12.38,"v":0},{"t":12.49,"v":0.03},{"t":12.64,"v":0.03},{"t":12.75,"v":-0.04},{"t":12.86,"v":-0.13},{"t":12.97,"v":-0.2},{"t":13.1,"v":-0.22},{"t":13.21,"v":-0.16},{"t":13.32,"v":-0.08},{"t":13.43,"v":0},{"t":13.54,"v":0.01},{"t":13.65,"v":0.04},{"t":13.77,"v":0.14},{"t":13.85,"v":0.1},{"t":13.93,"v":0.02},{"t":14.01,"v":-0.06},{"t":14.1,"v":-0.09},{"t":14.19,"v":-0.13},{"t":14.25,"v":-0.28},{"t":14.32,"v":-0.21},{"t":14.41,"v":-0.14},{"t":14.49,"v":-0.1},{"t":14.56,"v":-0.03},{"t":14.65,"v":0.01},{"t":14.74,"v":0.03},{"t":14.82,"v":-0.03},{"t":14.9,"v":0.15},{"t":14.96,"v":0.12},{"t":15.04,"v":0.08},{"t":15.12,"v":0.07},{"t":15.2,"v":0.04},{"t":15.29,"v":-0.04},{"t":15.36,"v":-0.11},{"t":15.43,"v":-0.03},{"t":15.5,"v":-0.07},{"t":15.59,"v":-0.01},{"t":15.67,"v":0.02},{"t":15.76,"v":0.07},{"t":15.87,"v":0.08},{"t":15.98,"v":0.08},{"t":16.09,"v":0.17},{"t":16.18,"v":0.16},{"t":16.26,"v":0.11},{"t":16.33,"v":0.08},{"t":16.45,"v":0.09},{"t":16.56,"v":0.14},{"t":16.67,"v":0.13},{"t":16.78,"v":0.12},{"t":16.89,"v":0.11},{"t":17,"v":0.15},{"t":17.14,"v":0.14},{"t":17.25,"v":0.12},{"t":17.36,"v":0.06},{"t":17.48,"v":0.01},{"t":17.59,"v":-0.04},{"t":17.73,"v":-0.07},{"t":17.84,"v":-0.02},{"t":17.95,"v":0.07},{"t":18.06,"v":0.14},{"t":18.17,"v":0.21},{"t":18.28,"v":0.22},{"t":18.39,"v":0.2},{"t":18.5,"v":0.11},{"t":18.58,"v":0.05},{"t":18.66,"v":0.07},{"t":18.75,"v":0.06},{"t":18.84,"v":0.04},{"t":18.91,"v":-0.07},{"t":18.99,"v":0.01},{"t":19.08,"v":0.07},{"t":19.19,"v":0.05},{"t":19.3,"v":0.08},{"t":19.41,"v":0.1},{"t":19.5,"v":0.05},{"t":19.58,"v":0.08},{"t":19.69,"v":0.17},{"t":19.77,"v":0.1},{"t":19.86,"v":0.01},{"t":19.93,"v":0.02},{"t":19.97,"v":-0.08},
{"t":20,"v":0},{"t":20.05,"v":-0.01},{"t":20.11,"v":0.06},{"t":20.17,"v":-0.07},{"t":20.24,"v":0.01},{"t":20.31,"v":-0.1},{"t":20.39,"v":0.04},{"t":20.44,"v":-0.13},{"t":20.53,"v":-0.06},{"t":20.61,"v":-0.04},{"t":20.69,"v":-0.08},{"t":20.78,"v":-0.04},{"t":20.86,"v":-0.07},{"t":20.97,"v":-0.02},{"t":21.05,"v":-0.05},{"t":21.16,"v":-0.11},{"t":21.24,"v":-0.07},{"t":21.33,"v":-0.03},{"t":21.42,"v":-0.03},{"t":21.53,"v":-0.09},{"t":21.64,"v":-0.13},{"t":21.75,"v":-0.17},{"t":21.88,"v":-0.18},{"t":22.05,"v":-0.17},{"t":22.16,"v":-0.13},{"t":22.27,"v":-0.07},{"t":22.38,"v":0},{"t":22.49,"v":0.03},{"t":22.64,"v":0.03},{"t":22.75,"v":-0.04},{"t":22.86,"v":-0.13},{"t":22.97,"v":-0.2},{"t":23.1,"v":-0.22},{"t":23.21,"v":-0.16},{"t":23.32,"v":-0.08},{"t":23.43,"v":0},{"t":23.54,"v":0.01},{"t":23.65,"v":0.04},{"t":23.77,"v":0.14},{"t":23.85,"v":0.1},{"t":23.93,"v":0.02},{"t":24.01,"v":-0.06},{"t":24.1,"v":-0.09},{"t":24.19,"v":-0.13},{"t":24.25,"v":-0.27},{"t":24.32,"v":-0.21},{"t":24.41,"v":-0.14},{"t":24.49,"v":-0.1},{"t":24.56,"v":-0.03},{"t":24.65,"v":0.01},{"t":24.74,"v":0.03},{"t":24.82,"v":-0.03},{"t":24.9,"v":0.15},{"t":24.96,"v":0.12},{"t":25.04,"v":0.08},{"t":25.12,"v":0.07},{"t":25.2,"v":0.04},{"t":25.29,"v":-0.04},{"t":25.36,"v":-0.11},{"t":25.43,"v":-0.03},{"t":25.5,"v":-0.07},{"t":25.59,"v":-0.01},{"t":25.67,"v":0.02},{"t":25.76,"v":0.07},{"t":25.87,"v":0.08},{"t":25.98,"v":0.08},{"t":26.09,"v":0.17},{"t":26.18,"v":0.16},{"t":26.26,"v":0.11},{"t":26.33,"v":0.08},{"t":26.45,"v":0.09},{"t":26.56,"v":0.14},{"t":26.67,"v":0.13},{"t":26.78,"v":0.12},{"t":26.89,"v":0.11},{"t":27,"v":0.15},{"t":27.14,"v":0.14},{"t":27.25,"v":0.12},{"t":27.36,"v":0.06},{"t":27.48,"v":0.01},{"t":27.59,"v":-0.04},{"t":27.73,"v":-0.07},{"t":27.84,"v":-0.02},{"t":27.95,"v":0.07},{"t":28.06,"v":0.14},{"t":28.17,"v":0.21},{"t":28.28,"v":0.22},{"t":28.39,"v":0.2},{"t":28.5,"v":0.11},{"t":28.58,"v":0.05},{"t":28.66,"v":0.07},{"t":28.75,"v":0.06},{"t":28.84,"v":0.04},{"t":28.91,"v":-0.07},{"t":28.99,"v":0.01},{"t":29.08,"v":0.07},{"t":29.19,"v":0.05},{"t":29.3,"v":0.08},{"t":29.41,"v":0.1},{"t":29.5,"v":0.05},{"t":29.58,"v":0.08},{"t":29.69,"v":0.17},{"t":29.77,"v":0.1},{"t":29.86,"v":0.01},{"t":29.93,"v":0.02},{"t":29.97,"v":-0.08},
{"t":30,"v":0},{"t":30.05,"v":-0.01},{"t":30.11,"v":0.06},{"t":30.17,"v":-0.07},{"t":30.24,"v":0.01},{"t":30.31,"v":-0.1},{"t":30.39,"v":0.04},{"t":30.44,"v":-0.13},{"t":30.53,"v":-0.06},{"t":30.61,"v":-0.04},{"t":30.69,"v":-0.08},{"t":30.78,"v":-0.04},{"t":30.86,"v":-0.07},{"t":30.97,"v":-0.02},{"t":31.05,"v":-0.05},{"t":31.16,"v":-0.11},{"t":31.24,"v":-0.07},{"t":31.33,"v":-0.03},{"t":31.42,"v":-0.03},{"t":31.53,"v":-0.09},{"t":31.64,"v":-0.13},{"t":31.75,"v":-0.17},{"t":31.88,"v":-0.18},{"t":32.05,"v":-0.17},{"t":32.16,"v":-0.13},{"t":32.27,"v":-0.07},{"t":32.38,"v":0},{"t":32.49,"v":0.03},{"t":32.64,"v":0.03},{"t":32.75,"v":-0.04},{"t":32.86,"v":-0.13},{"t":32.97,"v":-0.2},{"t":33.1,"v":-0.22},{"t":33.21,"v":-0.16},{"t":33.32,"v":-0.08},{"t":33.43,"v":0},{"t":33.54,"v":0.01},{"t":33.65,"v":0.04},{"t":33.77,"v":0.14},{"t":33.85,"v":0.1},{"t":33.93,"v":0.02},{"t":34.01,"v":-0.06},{"t":34.1,"v":-0.09},{"t":34.19,"v":-0.13},{"t":34.25,"v":-0.27},{"t":34.32,"v":-0.21},{"t":34.41,"v":-0.14},{"t":34.49,"v":-0.1},{"t":34.56,"v":-0.03},{"t":34.65,"v":0.01},{"t":34.74,"v":0.03},{"t":34.82,"v":-0.03},{"t":34.9,"v":0.15},{"t":34.96,"v":0.12},{"t":35.04,"v":0.08},{"t":35.12,"v":0.07},{"t":35.2,"v":0.04},{"t":35.29,"v":-0.04},{"t":35.36,"v":-0.11},{"t":35.43,"v":-0.03},{"t":35.5,"v":-0.07},{"t":35.59,"v":-0.01},{"t":35.67,"v":0.02},{"t":35.76,"v":0.07},{"t":35.87,"v":0.08},{"t":35.98,"v":0.08},{"t":36.09,"v":0.17},{"t":36.18,"v":0.16},{"t":36.26,"v":0.11},{"t":36.33,"v":0.08},{"t":36.45,"v":0.09},{"t":36.56,"v":0.14},{"t":36.67,"v":0.13},{"t":36.78,"v":0.12},{"t":36.89,"v":0.11},{"t":37,"v":0.15},{"t":37.14,"v":0.14},{"t":37.25,"v":0.12},{"t":37.36,"v":0.06},{"t":37.48,"v":0.01},{"t":37.59,"v":-0.04},{"t":37.73,"v":-0.07},{"t":37.84,"v":-0.02},{"t":37.95,"v":0.07},{"t":38.06,"v":0.14},{"t":38.17,"v":0.21},{"t":38.28,"v":0.22},{"t":38.39,"v":0.2},{"t":38.5,"v":0.11},{"t":38.58,"v":0.05},{"t":38.66,"v":0.07},{"t":38.75,"v":0.06},{"t":38.84,"v":0.04},{"t":38.91,"v":-0.07},{"t":38.99,"v":0.01},{"t":39.08,"v":0.07},{"t":39.19,"v":0.05},{"t":39.3,"v":0.08},{"t":39.41,"v":0.1},{"t":39.5,"v":0.05},{"t":39.58,"v":0.08},{"t":39.69,"v":0.17},{"t":39.77,"v":0.1},{"t":39.86,"v":0.01},{"t":39.93,"v":0.02},{"t":39.97,"v":-0.08},
{"t":40,"v":0},{"t":40.05,"v":-0.01},{"t":40.11,"v":0.06},{"t":40.17,"v":-0.07},{"t":40.24,"v":0.01},{"t":40.31,"v":-0.1},{"t":40.39,"v":0.04},{"t":40.44,"v":-0.13},{"t":40.53,"v":-0.06},{"t":40.61,"v":-0.04},{"t":40.69,"v":-0.08},{"t":40.78,"v":-0.04},{"t":40.86,"v":-0.07},{"t":40.97,"v":-0.02},{"t":41.05,"v":-0.05},{"t":41.16,"v":-0.11},{"t":41.24,"v":-0.07},{"t":41.33,"v":-0.03},{"t":41.42,"v":-0.03},{"t":41.53,"v":-0.09},{"t":41.64,"v":-0.13},{"t":41.75,"v":-0.17},{"t":41.88,"v":-0.18},{"t":42.05,"v":-0.17},{"t":42.16,"v":-0.13},{"t":42.27,"v":-0.07},{"t":42.38,"v":0},{"t":42.49,"v":0.03},{"t":42.64,"v":0.03},{"t":42.75,"v":-0.04},{"t":42.86,"v":-0.13},{"t":42.97,"v":-0.2},{"t":43.1,"v":-0.22},{"t":43.21,"v":-0.16},{"t":43.32,"v":-0.08},{"t":43.43,"v":0},{"t":43.54,"v":0.01},{"t":43.65,"v":0.04},{"t":43.77,"v":0.14},{"t":43.85,"v":0.1},{"t":43.93,"v":0.02},{"t":44.01,"v":-0.06},{"t":44.1,"v":-0.09},{"t":44.19,"v":-0.13},{"t":44.25,"v":-0.28},{"t":44.32,"v":-0.21},{"t":44.41,"v":-0.14},{"t":44.49,"v":-0.1},{"t":44.56,"v":-0.03},{"t":44.65,"v":0.01},{"t":44.74,"v":0.03},{"t":44.82,"v":-0.03},{"t":44.9,"v":0.15},{"t":44.96,"v":0.12},{"t":45.04,"v":0.08},{"t":45.12,"v":0.07},{"t":45.2,"v":0.04},{"t":45.29,"v":-0.04},{"t":45.36,"v":-0.11},{"t":45.43,"v":-0.03},{"t":45.5,"v":-0.07},{"t":45.59,"v":-0.01},{"t":45.67,"v":0.02},{"t":45.76,"v":0.07},{"t":45.87,"v":0.08},{"t":45.98,"v":0.08},{"t":46.09,"v":0.17},{"t":46.18,"v":0.16},{"t":46.26,"v":0.11},{"t":46.33,"v":0.08},{"t":46.45,"v":0.09},{"t":46.56,"v":0.14},{"t":46.67,"v":0.13},{"t":46.78,"v":0.12},{"t":46.89,"v":0.11},{"t":47,"v":0.15},{"t":47.14,"v":0.14},{"t":47.25,"v":0.12},{"t":47.36,"v":0.06},{"t":47.48,"v":0.01},{"t":47.59,"v":-0.04},{"t":47.73,"v":-0.07},{"t":47.84,"v":-0.02},{"t":47.95,"v":0.07},{"t":48.06,"v":0.14},{"t":48.17,"v":0.21},{"t":48.28,"v":0.22},{"t":48.39,"v":0.2},{"t":48.5,"v":0.11},{"t":48.58,"v":0.05},{"t":48.66,"v":0.07},{"t":48.75,"v":0.06},{"t":48.84,"v":0.04},{"t":48.91,"v":-0.07},{"t":48.99,"v":0.01},{"t":49.08,"v":0.07},{"t":49.19,"v":0.05},{"t":49.3,"v":0.08},{"t":49.41,"v":0.1},{"t":49.5,"v":0.05},{"t":49.58,"v":0.08},{"t":49.69,"v":0.17},{"t":49.77,"v":0.1},{"t":49.86,"v":0.01},{"t":49.93,"v":0.02},{"t":49.97,"v":-0.08},
{"t":50,"v":0},{"t":50.05,"v":-0.01},{"t":50.11,"v":0.06},{"t":50.17,"v":-0.07},{"t":50.24,"v":0.01},{"t":50.31,"v":-0.1},{"t":50.39,"v":0.04},{"t":50.44,"v":-0.13},{"t":50.53,"v":-0.06},{"t":50.61,"v":-0.04},{"t":50.69,"v":-0.08},{"t":50.78,"v":-0.04},{"t":50.86,"v":-0.07},{"t":50.97,"v":-0.02},{"t":51.05,"v":-0.05},{"t":51.16,"v":-0.11},{"t":51.24,"v":-0.07},{"t":51.33,"v":-0.03},{"t":51.42,"v":-0.03},{"t":51.53,"v":-0.09},{"t":51.64,"v":-0.13},{"t":51.75,"v":-0.17},{"t":51.88,"v":-0.18},{"t":52.05,"v":-0.17},{"t":52.16,"v":-0.13},{"t":52.27,"v":-0.07},{"t":52.38,"v":0},{"t":52.49,"v":0.03},{"t":52.64,"v":0.03},{"t":52.75,"v":-0.04},{"t":52.86,"v":-0.13},{"t":52.97,"v":-0.2},{"t":53.1,"v":-0.22},{"t":53.21,"v":-0.16},{"t":53.32,"v":-0.08},{"t":53.43,"v":0},{"t":53.54,"v":0.01},{"t":53.65,"v":0.04},{"t":53.77,"v":0.14},{"t":53.85,"v":0.1},{"t":53.93,"v":0.02},{"t":54.01,"v":-0.06},{"t":54.1,"v":-0.09},{"t":54.19,"v":-0.13},{"t":54.25,"v":-0.28},{"t":54.32,"v":-0.21},{"t":54.41,"v":-0.14},{"t":54.49,"v":-0.1},{"t":54.56,"v":-0.03},{"t":54.65,"v":0.01},{"t":54.74,"v":0.03},{"t":54.82,"v":-0.03},{"t":54.9,"v":0.15},{"t":54.96,"v":0.12},{"t":55.04,"v":0.08},{"t":55.12,"v":0.07},{"t":55.2,"v":0.04},{"t":55.29,"v":-0.04},{"t":55.36,"v":-0.11},{"t":55.43,"v":-0.03},{"t":55.5,"v":-0.07},{"t":55.59,"v":-0.01},{"t":55.67,"v":0.02},{"t":55.76,"v":0.07},{"t":55.87,"v":0.08},{"t":55.98,"v":0.08},{"t":56.09,"v":0.17},{"t":56.18,"v":0.16},{"t":56.26,"v":0.11},{"t":56.33,"v":0.08},{"t":56.45,"v":0.09},{"t":56.56,"v":0.14},{"t":56.67,"v":0.13},{"t":56.78,"v":0.12},{"t":56.89,"v":0.11},{"t":57,"v":0.15},{"t":57.14,"v":0.14},{"t":57.25,"v":0.12},{"t":57.36,"v":0.06},{"t":57.48,"v":0.01},{"t":57.59,"v":-0.04},{"t":57.73,"v":-0.07},{"t":57.84,"v":-0.02},{"t":57.95,"v":0.07},{"t":58.06,"v":0.14},{"t":58.17,"v":0.21},{"t":58.28,"v":0.22},{"t":58.39,"v":0.2},{"t":58.5,"v":0.11},{"t":58.58,"v":0.05},{"t":58.66,"v":0.07},{"t":58.75,"v":0.06},{"t":58.84,"v":0.04},{"t":58.91,"v":-0.07},{"t":58.99,"v":0.01},{"t":59.08,"v":0.07},{"t":59.19,"v":0.05},{"t":59.3,"v":0.08},{"t":59.41,"v":0.1},{"t":59.5,"v":0.05},{"t":59.58,"v":0.08},{"t":59.69,"v":0.17},{"t":59.77,"v":0.1},{"t":59.86,"v":0.01},{"t":59.93,"v":0.02},{"t":60,"v":-0.1}
    ]
  },
  "vconcat": [
    {
      "width": 1833, "height": 248,
      "data": {"name": "smc"},
      "layer": [
        {
          "mark": {"type": "line", "strokeWidth": 6, "strokeCap": "round", "strokeJoin": "round", "clip": true},
          "encoding": {
            "x": {"field": "t", "type": "quantitative", "scale": {"domain": [0, 60], "nice": false},
                  "axis": {"orient": "bottom", "values": [0, 10, 20, 30, 40, 50, 60], "title": null}},
            "y": {"field": "v", "type": "quantitative", "scale": {"domain": [-0.3, 0.3], "nice": false, "zero": false},
                  "axis": {"orient": "left", "values": [-0.2, 0, 0.2], "title": null,
                           "labelExpr": "datum.value < 0 ? '-' + format(-datum.value, '~g') : format(datum.value, '~g')"}},
            "color": {"datum": "Conventional SMC", "type": "nominal",
                      "scale": {"domain": ["Conventional SMC"], "range": ["#0000ff"]},
                      "legend": {"title": null, "symbolDash": [1, 0]}}
          }
        },
        {
          "mark": {"type": "line", "opacity": 0},
          "encoding": {
            "x": {"field": "t", "type": "quantitative", "scale": {"domain": [0, 60], "nice": false},
                  "axis": {"orient": "top", "values": [0, 10, 20, 30, 40, 50, 60], "labels": false, "title": null}},
            "y": {"field": "v", "type": "quantitative", "scale": {"domain": [-0.3, 0.3], "nice": false, "zero": false},
                  "axis": {"orient": "right", "values": [-0.2, 0, 0.2], "labels": false, "title": null}}
          }
        }
      ],
      "resolve": {"scale": {"x": "independent", "y": "independent"}, "axis": {"x": "independent", "y": "independent"}}
    },
    {
      "width": 1833, "height": 248,
      "data": {"name": "gsmc"},
      "layer": [
        {
          "mark": {"type": "line", "strokeWidth": 5.5, "strokeDash": [5, 5], "strokeCap": "butt", "clip": true},
          "encoding": {
            "x": {"field": "t", "type": "quantitative", "scale": {"domain": [0, 60], "nice": false},
                  "axis": {"orient": "bottom", "values": [0, 10, 20, 30, 40, 50, 60], "title": null}},
            "y": {"field": "v", "type": "quantitative", "scale": {"domain": [-0.2, 0.2], "nice": false, "zero": false},
                  "axis": {"orient": "left", "values": [-0.2, 0, 0.2], "title": "e₂/deg", "titlePadding": 20,
                           "labelExpr": "datum.value < 0 ? '-' + format(-datum.value, '~g') : format(datum.value, '~g')"}},
            "color": {"datum": "Generalized SMC", "type": "nominal",
                      "scale": {"domain": ["Generalized SMC"], "range": ["#ff0000"]},
                      "legend": {"title": null, "symbolDash": [5, 5]}}
          }
        },
        {
          "mark": {"type": "line", "opacity": 0},
          "encoding": {
            "x": {"field": "t", "type": "quantitative", "scale": {"domain": [0, 60], "nice": false},
                  "axis": {"orient": "top", "values": [0, 10, 20, 30, 40, 50, 60], "labels": false, "title": null}},
            "y": {"field": "v", "type": "quantitative", "scale": {"domain": [-0.2, 0.2], "nice": false, "zero": false},
                  "axis": {"orient": "right", "values": [-0.2, 0, 0.2], "labels": false, "title": null}}
          }
        }
      ],
      "resolve": {"scale": {"x": "independent", "y": "independent"}, "axis": {"x": "independent", "y": "independent"}}
    },
    {
      "width": 1833, "height": 248,
      "data": {"name": "rc"},
      "layer": [
        {
          "mark": {"type": "line", "strokeWidth": 5.5, "strokeDash": [14, 6, 5, 6], "strokeCap": "butt", "clip": true},
          "encoding": {
            "x": {"field": "t", "type": "quantitative", "scale": {"domain": [0, 60], "nice": false},
                  "axis": {"orient": "bottom", "values": [0, 10, 20, 30, 40, 50, 60], "title": "time/s", "titlePadding": 13}},
            "y": {"field": "v", "type": "quantitative", "scale": {"domain": [-0.3, 0.3], "nice": false, "zero": false},
                  "axis": {"orient": "left", "values": [-0.2, 0, 0.2], "title": null,
                           "labelExpr": "datum.value < 0 ? '-' + format(-datum.value, '~g') : format(datum.value, '~g')"}},
            "color": {"datum": "Robust Control", "type": "nominal",
                      "scale": {"domain": ["Robust Control"], "range": ["#00ff00"]},
                      "legend": {"title": null, "symbolDash": [14, 6, 5, 6]}}
          }
        },
        {
          "mark": {"type": "line", "opacity": 0},
          "encoding": {
            "x": {"field": "t", "type": "quantitative", "scale": {"domain": [0, 60], "nice": false},
                  "axis": {"orient": "top", "values": [0, 10, 20, 30, 40, 50, 60], "labels": false, "title": null}},
            "y": {"field": "v", "type": "quantitative", "scale": {"domain": [-0.3, 0.3], "nice": false, "zero": false},
                  "axis": {"orient": "right", "values": [-0.2, 0, 0.2], "labels": false, "title": null}}
          }
        }
      ],
      "resolve": {"scale": {"x": "independent", "y": "independent"}, "axis": {"x": "independent", "y": "independent"}}
    }
  ]
}
